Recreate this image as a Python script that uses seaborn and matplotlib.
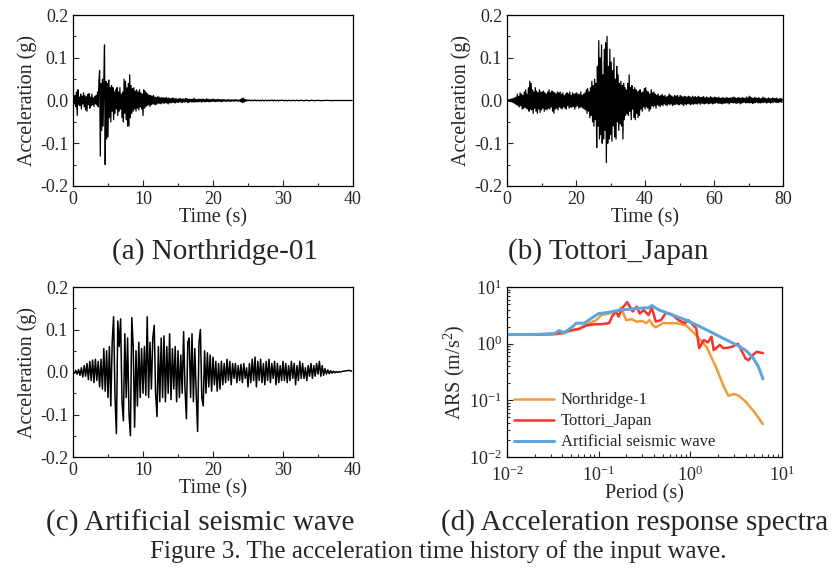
import numpy as np
import matplotlib
matplotlib.use("Agg")
import matplotlib.pyplot as plt
import seaborn as sns
from matplotlib.ticker import MultipleLocator, LogLocator, NullFormatter

sns.set_style("ticks")
plt.rcParams['font.family'] = ['Liberation Serif', 'DejaVu Serif']
plt.rcParams['mathtext.fontset'] = 'custom'
plt.rcParams['mathtext.rm'] = 'Liberation Serif'
plt.rcParams['mathtext.it'] = 'Liberation Serif:italic'

# ---------------- data (accelerations in milli-g) ----------------
dt_a = 0.1
acc_northridge = [
    0, 3, -8, 12, -15, 20, -35, 25, -10, 8, -12, 15, -20, 10, -8, 18, -15, 12, -22, 9,
    -25, 14, -10, 16, -18, 8, -12, 15, -10, 6, -14, 10, -8, 12, -10, 20, -15, 45, 70, -130,
    40, -70, 50, -60, 45, 130, -150, 45, -90, 40, -85, 48, -40, 30, -50, 35, -25, 30, -45, 20,
    -30, 25, -20, 30, -35, 20, -25, 30, -20, 15, -40, 20, -50, 50, -30, 45, -45, 30, -60, 40,
    -60, 60, -40, 35, -30, 28, -25, 30, -20, 22, -25, 25, -18, 20, -22, 25, -15, 18, -20, 15,
    -35, 25, -18, 22, -15, 18, -12, 15, -10, 12, -14, 12, -10, 10, -8, 12, -9, 8, -10, 7,
    -8, 9, -6, 8, -7, 6, -8, 7, -5, 6, -7, 6, -5, 7, -6, 5, -8, 6, -5, 4,
    -6, 5, -4, 6, -5, 4, -6, 5, -4, 3, -5, 4, -3, 5, -4, 3, -5, 4, -3, 3,
    -4, 5, -3, 4, -5, 3, -4, 3, -2, 3, -4, 3, -3, 5, -4, 3, -3, 2, -3, 3,
    -3, 3, -2, 3, -4, 3, -2, 3, -3, 2, -3, 4, -2, 3, -3, 2, -3, 2, -2, 3,
    -2, 3, -2, 2, -3, 2, -2, 3, -2, 2, -2, 2, -3, 2, -2, 2, -1, 2, -2, 1,
    -2, 2, -1, 2, -2, 1, -2, 2, -1, 1, -2, 2, -1, 2, -1, 1, -2, 1, -1, 2,
    -3, 4, -5, 6, -4, 3, -2, 2, -1, 1, -1, 1, 0, 1, -1, 0, 1, 0, -1, 1,
    0, 1, -1, 0, 1, 0, -1, 0, 1, -1, 0, 1, 0, -1, 0, 1, 0, -1, 0, 1,
    0, -1, 0, 1, 0, 1, -1, 0, 1, 0, -1, 0, 1, 0, -1, 0, 1, 0, 0, 1,
    0, 0, -1, 0, 1, 0, -1, 0, 0, 1, 0, -1, 0, 0, 1, 0, 0, -1, 0, 0,
    1, 0, 0, -1, 0, 0, 1, 0, 0, 0, -1, 0, 0, 1, 0, 0, 0, -1, 0, 0,
    0, 1, 0, 0, 0, -1, 0, 0, 0, 0, 1, 0, 0, 0, 0, -1, 0, 0, 0, 0,
    0, 0, 1, 0, 0, 0, 0, 0, 0, 0, -1, 0, 0, 0, 0, 0, 0, 0, 0, 0,
    0, 0, 0, 0, 0, 0, 0, 0, 0, 0, 0, 0, 0, 0, 0, 0, 0, 0, 0, 0,
]

dt_b = 0.2
acc_tottori = [
    0, 1, -1, 2, -2, 3, -3, 4, -4, 5, -6, 6, -8, 8, -10, 15, -12, 10, -15, 18, -12, 15, -20, 12, -18,
    20, -15, 25, -18, 15, -20, 30, -25, 45, -20, 40, -22, 25, -30, 20, -18, 30, -25, 22, -30, 18, -20, 25, -28, 20,
    -22, 20, -18, 22, -25, 18, -20, 15, -22, 20, -18, 25, -20, 18, -15, 22, -25, 20, -30, 18, -20, 15, -18, 20, -22,
    18, -15, 20, -18, 15, -20, 18, -15, 12, -18, 15, -20, 18, -12, 15, -18, 20, -15, 12, -16, 18, -14, 15, -20, 16,
    -15, 18, -12, 15, -18, 14, -16, 20, -15, 12, -18, 15, -20, 18, -22, 25, -30, 28, -25, 20, -40, 30, -35, 45, -50,
    35, -60, 50, -45, 40, -110, 80, -60, 140, -90, 100, -80, 130, -100, 60, -90, 120, -70, 135, -145, 150, -100, 80, -90, 120,
    -80, 90, -95, 70, -60, 100, -85, 50, -90, 80, -50, 60, -70, 40, -55, 45, -60, 35, -90, 40, -45, 30, -35, 25, -30,
    40, -35, 60, -25, 30, -45, 35, -20, 25, -40, 30, -45, 25, -30, 20, -40, 22, -35, 25, -20, 18, -25, 20, -15, 28,
    -20, 30, -15, 22, -18, 20, -25, 15, -20, 25, -12, 18, -15, 20, -12, 15, -18, 12, -10, 15, -12, 10, -14, 12, -10,
    14, -12, 10, -8, 12, -10, 8, -12, 10, -8, 15, -10, 12, -8, 10, -12, 8, -10, 12, -9, 10, -8, 12, -10, 8,
    -10, 12, -8, 10, -9, 8, -12, 10, -8, 9, -10, 8, -7, 10, -8, 9, -10, 7, -8, 10, -9, 8, -7, 9, -8,
    7, -8, 10, -6, 8, -9, 7, -6, 8, -7, 9, -8, 6, -7, 8, -6, 7, -8, 6, -7, 9, -6, 7, -8, 6,
    -7, 8, -6, 7, -5, 6, -7, 8, -6, 5, -7, 6, -8, 7, -6, 5, -7, 6, -5, 7, -6, 5, -8, 6, -5,
    6, -5, 7, -6, 8, -5, 6, -7, 5, -6, 7, -5, 6, -8, 5, -6, 7, -5, 6, -4, 5, -6, 8, -5, 6,
    -5, 10, -6, 8, -5, 6, -7, 5, -6, 7, -5, 6, -4, 5, -6, 7, -5, 4, -6, 5, -4, 8, -5, 6, -4,
    5, -6, 4, -5, 6, -4, 5, -6, 4, -5, 6, -4, 5, -3, 4, -5, 6, -4, 3, -5, 4, -3, 5, -4, 3,
]

dt_c = 0.2
acc_artificial = [
    0, -3, 4, -5, 6, -8, 10, -12, 15, -10, 20, -18, 25, -20, 28, -25, 30, -20, 25, -35, 30, -40, 55, -45, 50,
    -60, 60, -80, 70, 130, -60, -145, 120, 60, 125, -70, -115, 90, -60, 80, -100, -150, 128, 60, -130, 50, -80, 70, -60, 55,
    -50, 60, -55, 130, -60, 70, -40, 80, 110, -50, -105, 60, -70, 80, -60, 85, -70, 60, -50, 90, -65, 55, -40, 60, -70,
    50, -60, 40, -50, 95, -40, -110, 70, 80, -60, 90, -70, 55, -50, -140, 70, 100, -60, -80, 50, -50, 45, -35, 40, -45,
    35, -30, 25, -45, 20, -40, 25, -30, 20, -25, 30, -20, 25, -30, 20, -15, 20, -25, 15, -20, 18, -25, 20, -15, 10,
    -35, 20, -25, 30, -20, 35, -35, 25, -20, 30, -25, 20, -30, 25, -20, 30, -25, 20, -15, 25, -30, 20, -25, 15, -20,
    25, -20, 20, -25, 15, -20, 25, -15, 20, -30, 15, -20, 25, -15, 20, -15, 10, -20, 15, -10, 20, -15, 15, -10, 20,
    -5, 25, -10, 15, -8, 8, -5, 5, -4, 3, -3, 2, -2, 1, -1, 1, 0, 1, 2, 2, 3, 3, 4, 3, 2,
]

# Response spectra (period s, ARS m/s^2)
period_n = [0.01, 0.02, 0.032, 0.04, 0.05, 0.062, 0.075, 0.094, 0.107, 0.13, 0.15, 0.17, 0.175, 0.2,
            0.23, 0.26, 0.3, 0.33, 0.36, 0.39, 0.42, 0.5, 0.6, 0.7, 0.9, 1.16, 1.5, 1.9, 2.3, 2.6,
            3.0, 3.4, 4.0, 5.0, 6.2]
ars_n = [1.45, 1.45, 1.45, 1.5, 1.7, 1.86, 2.2, 2.6, 3.2, 3.4, 3.6, 4.0, 4.3, 2.6,
         2.7, 2.45, 2.5, 2.3, 2.6, 2.1, 1.94, 2.3, 2.3, 2.3, 2.1, 1.4, 0.88, 0.39, 0.18, 0.12,
         0.13, 0.12, 0.095, 0.062, 0.038]

period_t = [0.01, 0.02, 0.035, 0.048, 0.06, 0.074, 0.09, 0.105, 0.13, 0.14, 0.155, 0.165, 0.18, 0.205,
            0.235, 0.26, 0.28, 0.31, 0.35, 0.38, 0.42, 0.48, 0.54, 0.63, 0.74, 0.87, 0.95, 1.16, 1.25,
            1.4, 1.55, 1.7, 1.8, 2.1, 2.3, 2.6, 2.9, 3.3, 3.6, 4.0, 4.3, 4.8, 5.3, 6.2]
ars_t = [1.45, 1.45, 1.5, 1.7, 1.8, 2.1, 2.2, 2.2, 2.3, 3.0, 3.7, 3.0, 4.2, 5.4,
         3.7, 4.5, 3.4, 3.9, 3.2, 4.3, 2.45, 2.6, 3.5, 3.3, 2.6, 2.3, 2.6, 1.86, 0.83,
         1.16, 1.05, 1.33, 0.77, 0.95, 0.83, 0.85, 0.89, 1.0, 0.77, 0.55, 0.51, 0.63, 0.72, 0.68]

period_s = [0.01, 0.02, 0.033, 0.037, 0.042, 0.052, 0.057, 0.07, 0.087, 0.1, 0.12, 0.17, 0.26, 0.35,
            0.38, 0.46, 0.64, 0.9, 1.4, 2.1, 3.2, 4.0, 4.8, 5.5, 6.2]
ars_s = [1.45, 1.45, 1.5, 1.7, 1.55, 2.0, 2.3, 2.3, 2.95, 3.4, 3.5, 3.9, 4.2, 4.3,
         4.7, 3.9, 3.2, 2.6, 1.86, 1.33, 0.95, 0.77, 0.57, 0.4, 0.24]

# ---------------- figure ----------------
fig = plt.figure(figsize=(8.34, 5.75), dpi=100)
ax_a = fig.add_axes([73/834, 1-186/575, 280/834, 171/575])
ax_b = fig.add_axes([507/834, 1-186/575, 276/834, 171/575])
ax_c = fig.add_axes([73/834, 1-457/575, 280/834, 170/575])
ax_d = fig.add_axes([507/834, 1-457/575, 275/834, 170/575])

TICK = 13
LAB = 14.5

def time_panel(ax, dt, acc, xmax, xmaj, lw):
    acc = np.array(acc) / 1000.0
    t = np.arange(len(acc)) * dt
    sns.lineplot(x=t, y=acc, ax=ax, color='black', lw=lw, estimator=None)
    ax.set_xlim(0, xmax)
    ax.set_ylim(-0.2, 0.2)
    ax.xaxis.set_major_locator(MultipleLocator(xmaj))
    ax.xaxis.set_minor_locator(MultipleLocator(xmaj / 2))
    ax.yaxis.set_minor_locator(MultipleLocator(0.05))
    ax.set_yticks([-0.2, -0.1, 0.0, 0.1, 0.2])
    ax.set_yticklabels(['-0.2', '-0.1', '0.0', '0.1', '0.2'])
    ax.set_xlabel('Time (s)', fontsize=LAB, labelpad=0)
    ax.set_ylabel('Acceleration (g)', fontsize=LAB, labelpad=2)

time_panel(ax_a, dt_a, acc_northridge, 40, 10, 0.9)
time_panel(ax_b, dt_b, acc_tottori, 80, 20, 0.9)
time_panel(ax_c, dt_c, acc_artificial, 40, 10, 1.1)

ax_d.set_xscale('log')
ax_d.set_yscale('log')
sns.lineplot(x=period_n, y=ars_n, ax=ax_d, color='#F09B3A', lw=1.8, label='Northridge-1', estimator=None)
sns.lineplot(x=period_t, y=ars_t, ax=ax_d, color='#F5352A', lw=1.8, label='Tottori_Japan', estimator=None)
sns.lineplot(x=period_s, y=ars_s, ax=ax_d, color='#5DA5DA', lw=2.2, label='Artificial seismic wave', estimator=None)
ax_d.set_xlim(0.01, 10)
ax_d.set_ylim(0.01, 10)
ax_d.xaxis.set_major_locator(LogLocator(base=10, numticks=10))
ax_d.yaxis.set_major_locator(LogLocator(base=10, numticks=10))
ax_d.xaxis.set_minor_locator(LogLocator(base=10, subs=np.arange(2, 10), numticks=20))
ax_d.yaxis.set_minor_locator(LogLocator(base=10, subs=np.arange(2, 10), numticks=20))
ax_d.xaxis.set_minor_formatter(NullFormatter())
ax_d.yaxis.set_minor_formatter(NullFormatter())
ax_d.set_xlabel('Period (s)', fontsize=LAB, labelpad=0)
ax_d.set_ylabel('ARS (m/s$^2$)', fontsize=LAB, labelpad=2)
leg = ax_d.legend(loc='lower left', frameon=False, fontsize=12, handlelength=2.4,
                  borderaxespad=0.2, labelspacing=0.3, handletextpad=0.4,
                  bbox_to_anchor=(-0.01, -0.02))

for ax in (ax_a, ax_b, ax_c, ax_d):
    ax.tick_params(which='both', direction='in', labelsize=TICK, width=0.8)
    ax.tick_params(which='major', length=4)
    ax.tick_params(which='minor', length=2.5)
    for s in ax.spines.values():
        s.set_linewidth(0.9)
        s.set_color('black')
ax_d.tick_params(axis='x', which='major', pad=6)

CAP = 21
fig.text(215/834, 1-252/575, '(a) Northridge-01', ha='center', va='center', fontsize=CAP)
fig.text(608/834, 1-252/575, '(b) Tottori_Japan', ha='center', va='center', fontsize=CAP)
fig.text(200/834, 1-523/575, '(c) Artificial seismic wave', ha='center', va='center', fontsize=CAP)
fig.text(635/834, 1-523/575, '(d) Acceleration response spectra', ha='center', va='center', fontsize=CAP)
fig.text(438/834, 1-552/575, 'Figure 3. The acceleration time history of the input wave.',
         ha='center', va='center', fontsize=18)

fig.savefig('out.png', dpi=100)
